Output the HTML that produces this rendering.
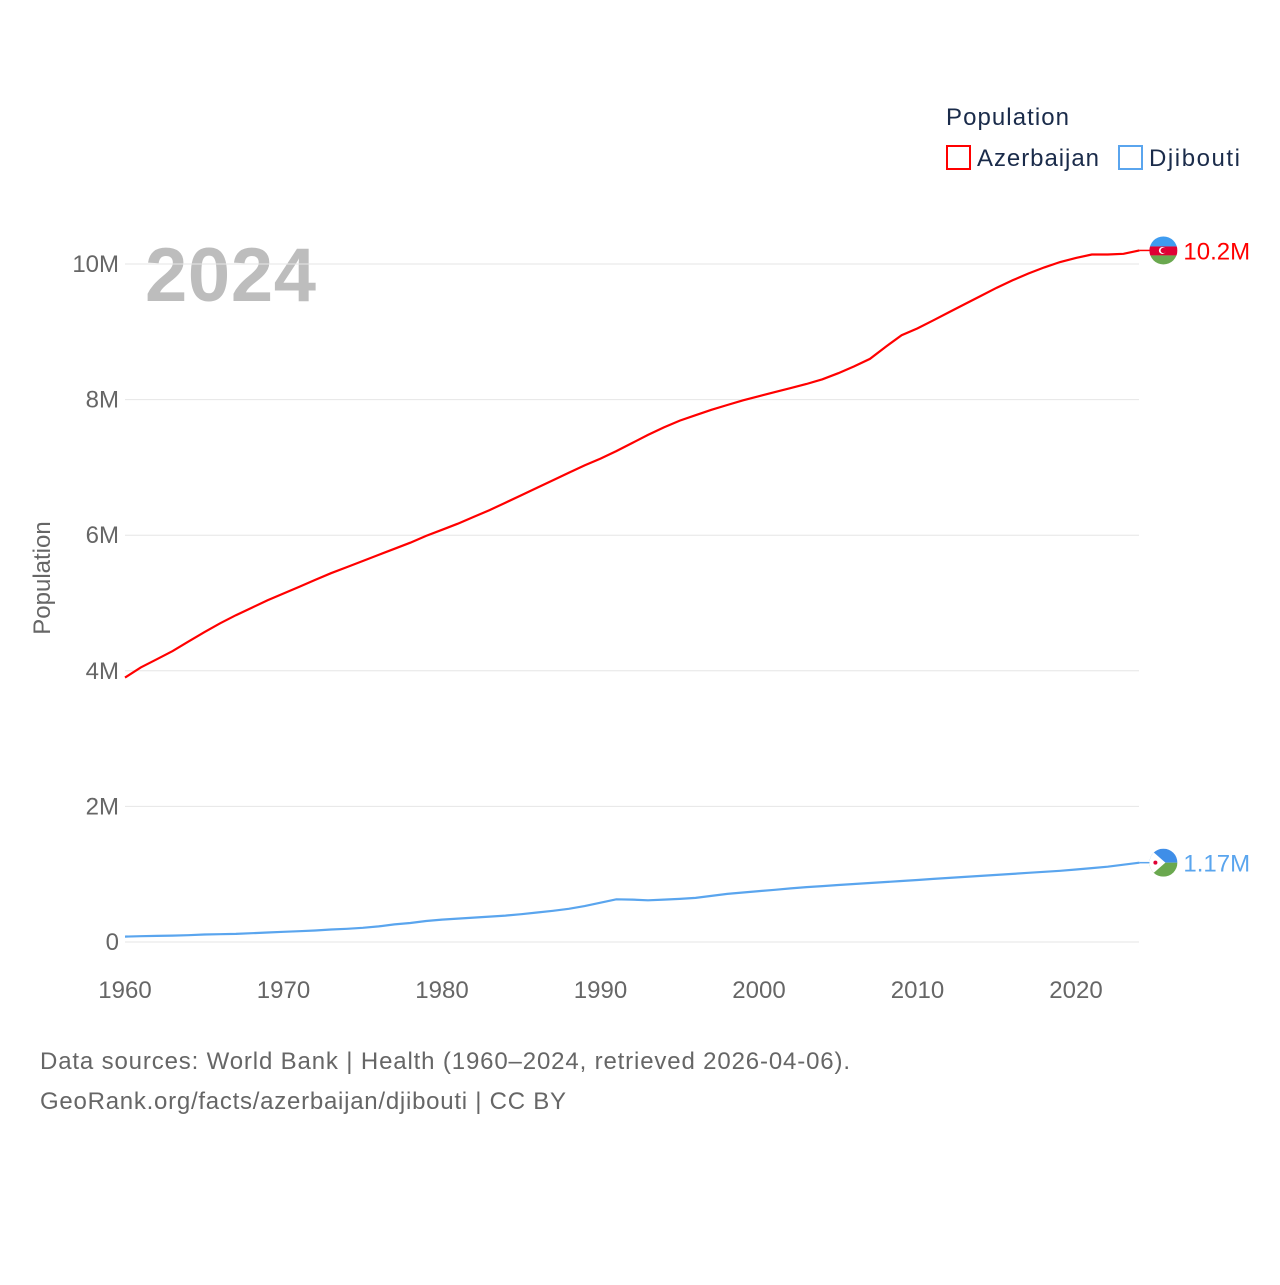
<!DOCTYPE html>
<html><head><meta charset="utf-8"><style>
body{margin:0;background:#fff;}
svg text{font-family:"Liberation Sans",sans-serif;}
</style></head><body>
<svg id="chart" width="1280" height="1280" xmlns="http://www.w3.org/2000/svg">
<text x="946" y="125" font-size="24" fill="#1a2b4a" textLength="123">Population</text>
<g><rect x="947" y="146" width="23" height="23" fill="none" stroke="#ff0000" stroke-width="2"/><text x="977" y="166" font-size="24" fill="#1a2b4a" textLength="122">Azerbaijan</text></g>
<g><rect x="1119" y="146" width="23" height="23" fill="none" stroke="#5aa5ee" stroke-width="2"/><text x="1149" y="166" font-size="24" fill="#1a2b4a" textLength="91">Djibouti</text></g>
<text x="145" y="301" font-size="76" font-weight="bold" fill="#bdbdbd" textLength="171">2024</text>
<text transform="translate(50,578) rotate(-90)" text-anchor="middle" font-size="24" fill="#666">Population</text>
<g id="grid"></g><g id="series"></g>
<text x="40" y="1069" font-size="24" fill="#666" textLength="810">Data sources: World Bank | Health (1960–2024, retrieved 2026-04-06).</text>
<text x="40" y="1109" font-size="24" fill="#666" textLength="526">GeoRank.org/facts/azerbaijan/djibouti | CC BY</text>
</svg>
<script>
const years=[];for(let y=1960;y<=2024;y++)years.push(y);
const azerbaijan=[3.90,4.05,4.17,4.29,4.43,4.57,4.70,4.82,4.93,5.04,5.14,5.24,5.34,5.44,5.53,5.62,5.71,5.80,5.89,5.99,6.08,6.17,6.27,6.37,6.48,6.59,6.70,6.81,6.92,7.03,7.13,7.24,7.36,7.48,7.59,7.69,7.77,7.85,7.92,7.99,8.05,8.11,8.17,8.23,8.30,8.39,8.49,8.60,8.78,8.95,9.05,9.17,9.29,9.41,9.53,9.65,9.76,9.86,9.95,10.03,10.09,10.14,10.14,10.15,10.20];
const djibouti=[0.08,0.085,0.09,0.095,0.10,0.11,0.115,0.12,0.13,0.14,0.15,0.16,0.17,0.185,0.195,0.21,0.23,0.26,0.28,0.31,0.33,0.345,0.36,0.375,0.39,0.41,0.435,0.46,0.49,0.53,0.58,0.63,0.625,0.615,0.625,0.635,0.65,0.68,0.71,0.73,0.75,0.77,0.79,0.81,0.825,0.84,0.855,0.87,0.885,0.90,0.915,0.93,0.945,0.96,0.975,0.99,1.005,1.02,1.035,1.05,1.07,1.09,1.11,1.14,1.17];
const yTicks=[0,2,4,6,8,10];
const yTickLabels=["0","2M","4M","6M","8M","10M"];
const xTicks=[1960,1970,1980,1990,2000,2010,2020];
const ns="http://www.w3.org/2000/svg";
const X=y=>125+(y-1960)*15.85;
const Y=v=>942-v*67.8;
const grid=document.getElementById('grid'),ser=document.getElementById('series');
function mk(tag,attrs,parent){const e=document.createElementNS(ns,tag);for(const k in attrs)e.setAttribute(k,attrs[k]);parent.appendChild(e);return e;}
yTicks.forEach((t,i)=>{
  const l=mk('line',{x1:125,x2:1139,y1:Y(t),y2:Y(t),stroke:'#e6e6e6','stroke-width':1},grid);
  
  
  const tx=mk('text',{x:119,y:Y(t)+8,'text-anchor':'end','font-size':24,fill:'#666'},grid);
  tx.textContent=yTickLabels[i];
  
  
});
xTicks.forEach(t=>{
  const tx=mk('text',{x:X(t),y:998,'text-anchor':'middle','font-size':24,fill:'#666'},grid);
  tx.textContent=t;
  
  
});
function drawSeries(vals,color,name,label){
  const d=vals.map((v,i)=>(i?'L':'M')+X(years[i]).toFixed(1)+' '+Y(v).toFixed(1)).join(' ');
  const p=mk('path',{d:d,fill:'none',stroke:color,'stroke-width':2.2},ser);
  
  
  const last=vals[vals.length-1],lx=X(years[years.length-1]),ly=Y(last);
  mk('line',{x1:lx,x2:lx+12,y1:ly,y2:ly,stroke:color,'stroke-width':1.5},ser);
  const g=mk('g',{},ser);
  
  
  const cx=lx+24,cy=ly;
  const cp='cp-'+name;
  const c=mk('clipPath',{id:cp},g);mk('circle',{cx:cx,cy:cy,r:14},c);
  const gg=mk('g',{'clip-path':'url(#'+cp+')'},g);
  if(name==='azerbaijan'){
    mk('rect',{x:cx-14,y:cy-14,width:28,height:10,fill:'#3f9cf0'},gg);
    mk('rect',{x:cx-14,y:cy-4,width:28,height:9,fill:'#e00034'},gg);
    mk('rect',{x:cx-14,y:cy+5,width:28,height:9,fill:'#6aa84f'},gg);
    mk('circle',{cx:cx-1,cy:cy,r:3.5,fill:'#fff'},gg);
    mk('circle',{cx:cx,cy:cy,r:2.8,fill:'#e00034'},gg);
  }else{
    mk('rect',{x:cx-14,y:cy-14,width:28,height:14,fill:'#3f8ee8'},gg);
    mk('rect',{x:cx-14,y:cy,width:28,height:14,fill:'#6aa84f'},gg);
    mk('polygon',{points:`${cx-14},${cy-14} ${cx+2},${cy} ${cx-14},${cy+14}`,fill:'#fff'},gg);
    mk('circle',{cx:cx-8,cy:cy,r:2,fill:'#e00034'},gg);
  }
  const t=mk('text',{x:cx+20,y:cy+9,'font-size':24,fill:color},ser);
  t.textContent=label;
  
  
}
drawSeries(azerbaijan,'#ff0000','azerbaijan','10.2M');
drawSeries(djibouti,'#5aa5ee','djibouti','1.17M');
</script>
</body></html>
